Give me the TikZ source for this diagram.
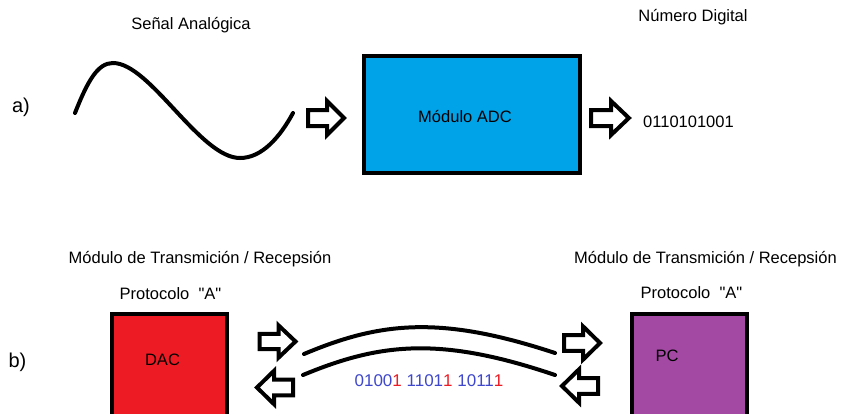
\documentclass[tikz,border=0pt]{standalone}
\usepackage{fontspec}
\setmainfont{Liberation Sans}[Ligatures=TeXOff]
\definecolor{adcblue}{HTML}{00A2E8}
\definecolor{dacred}{HTML}{ED1C24}
\definecolor{pcpurple}{HTML}{A349A4}
\definecolor{bitblue}{HTML}{3F48CC}
\definecolor{bitred}{HTML}{ED1C24}
\tikzset{
  lbl/.style={inner sep=0pt, anchor=base, font=\fontsize{16.5}{18}\selectfont},
  tag/.style={lbl, font=\fontsize{20}{22}\selectfont},
  module/.style={draw=black, line width=4pt, inner sep=0pt},
  wave/.style={line width=4pt, line cap=round},
  blockarrow/.pic={
    \draw[line width=4pt, fill=white, line join=miter]
      (-18,-8) -- (1,-8) -- (1,-17) -- (18,0) -- (1,17) -- (1,8) -- (-18,8) -- cycle;
  }
}
\newcommand{\bitstream}{%
  \textcolor{bitblue}{0100}\textcolor{bitred}{1}\ %
  \textcolor{bitblue}{1101}\textcolor{bitred}{1}\ %
  \textcolor{bitblue}{1011}\textcolor{bitred}{1}}
\begin{document}
\begin{tikzpicture}[x=1pt, y=-1pt]
  \clip (0,0) rectangle (844,413);
  \fill[white] (0,0) rectangle (844,413);

  % ---- part a) ----
  \node[tag] (tagA) at (21,112) {a)};
  \node[lbl] (sigTitle) at (191,29) {Señal Analógica};
  \node[lbl] (numTitle) at (693,21) {Número Digital};

  \draw[wave] (75,113) .. controls (88,80) and (98,63) .. (113,63)
              .. controls (150,63) and (200,158) .. (240,158)
              .. controls (262,158) and (280,137) .. (293,113);

  \pic at (326,118) {blockarrow};
  \node[module, fill=adcblue, minimum width=216pt, minimum height=117pt]
    (adc) at (472,114.5) {};
  \node[lbl] (adcText) at (465,122) {Módulo ADC};
  \pic[xscale=1.05] at (610,118) {blockarrow};
  \node[lbl] (digits) at (688.5,127) {0110101001};

  % ---- part b) ----
  \node[tag] (tagB) at (17.5,367) {b)};

  \node[lbl] (leftTitle) at (200,263) {Módulo de Transmición / Recepsión};
  \node[lbl] (leftProto) at (170.5,299) {Protocolo\ \ "A"};
  \node[module, fill=dacred, minimum width=115pt, minimum height=108pt, anchor=north west]
    (dac) at (110,312) {};
  \node[lbl] (dacText) at (162.5,365) {DAC};

  \node[lbl] (rightTitle) at (705.5,263) {Módulo de Transmición / Recepsión};
  \node[lbl] (rightProto) at (691.5,298) {Protocolo\ \ "A"};
  \node[module, fill=pcpurple, minimum width=115pt, minimum height=108pt, anchor=north west]
    (pc) at (630,312) {};
  \node[lbl] (pcText) at (667,361) {PC};

  % transmit / receive arrows on both sides
  \pic[yscale=0.95] at (277.5,341.5) {blockarrow};
  \pic[xscale=-1, yscale=0.98] at (275,387.5) {blockarrow};
  \pic[yscale=0.98] at (582,343) {blockarrow};
  \pic[xscale=-1, yscale=0.98] at (580,386) {blockarrow};

  % the two-wire link
  \draw[wave] (304,354) .. controls (380,322) and (440,315) .. (555,353);
  \draw[wave] (303,375) .. controls (380,343) and (440,336) .. (555,375);
  \node[lbl, font=\fontsize{17}{19}\selectfont] (bits) at (429,386) {\bitstream};
\end{tikzpicture}
\end{document}
